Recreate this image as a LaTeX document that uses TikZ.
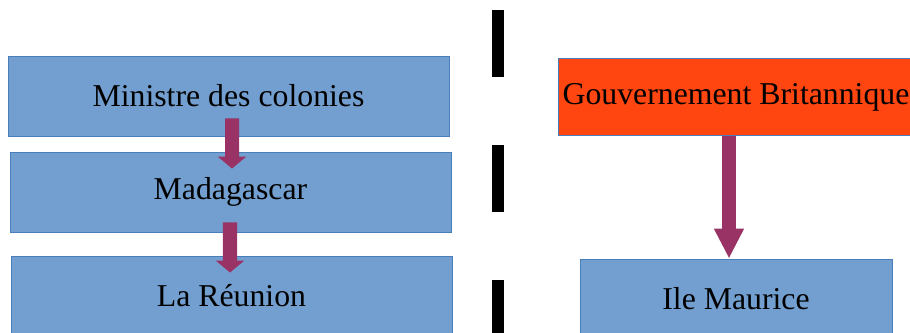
\documentclass[tikz,border=0pt]{standalone}
\usepackage{fontspec}
\setmainfont{Liberation Serif}
\usetikzlibrary{arrows.meta}
\definecolor{boxblue}{HTML}{729FCF}
\definecolor{boxline}{HTML}{4A7EBB}
\definecolor{govred}{HTML}{FF4611}
\definecolor{arrowplum}{HTML}{993366}

\begin{document}
\begin{tikzpicture}[x=0.025cm, y=-0.025cm,
    bluebox/.style={rectangle, draw=boxline, fill=boxblue, line width=0.6pt, minimum width=11.025cm, minimum height=2cm, inner sep=0pt, font=\fontsize{22.6}{27}\selectfont},
    redbox/.style={bluebox, fill=govred, minimum width=8.9cm, minimum height=1.925cm},
    blockarrow/.style={draw=arrowplum, line width=0.35cm, -{Triangle[width=0.7cm,length=0.3cm]}}
    ]
    \useasboundingbox (0,0) rectangle (910,333);

    \node [bluebox] (mc) at (228.5, 96) {Ministre des colonies};
    \node [bluebox] (mad) at (230.5,192) {Madagascar};
    \node [bluebox] (reu) at (231.5,296) {La Réunion};

    \node [redbox] (gb) at (736,97) {Gouvernement Britannique};
    \node [bluebox, minimum width=7.8cm] (ile) at (736,299) {Ile Maurice};

    \draw [blockarrow] ([xshift=0.0875cm,yshift=0.45cm]mc.south) -- ([xshift=0.0375cm,yshift=-0.425cm]mad.north);
    \draw [blockarrow] ([xshift=-0.0125cm,yshift=0.25cm]mad.south) -- ([xshift=-0.0375cm,yshift=-0.425cm]reu.north);
    \draw [blockarrow, -{Triangle[width=0.7cm,length=0.75cm]}] ([xshift=-0.175cm]gb.south) -- ([xshift=-0.175cm]ile.north);

    % separation
    \draw [line width=0.3cm, dash pattern=on 1.675cm off 1.7cm] (498,10) -- (498,350);
  \end{tikzpicture}
\end{document}
